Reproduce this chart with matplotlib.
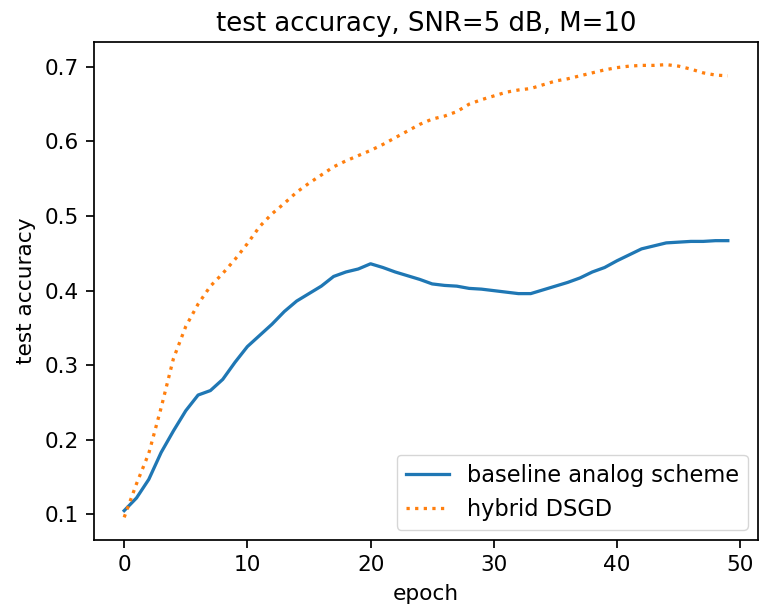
import matplotlib
matplotlib.use('Agg')
import matplotlib.pyplot as plt
import numpy as np

# Test accuracy per epoch.
epochs = np.arange(50)

baseline_analog = [
    0.105, 0.122, 0.147, 0.183, 0.212, 0.239, 0.260, 0.266, 0.281, 0.304,
    0.325, 0.340, 0.355, 0.372, 0.386, 0.396, 0.406, 0.419, 0.425, 0.429,
    0.436, 0.431, 0.425, 0.420, 0.415, 0.409, 0.407, 0.406, 0.403, 0.402,
    0.400, 0.398, 0.396, 0.396, 0.401, 0.406, 0.411, 0.417, 0.425, 0.431,
    0.440, 0.448, 0.456, 0.460, 0.464, 0.465, 0.466, 0.466, 0.467, 0.467,
]

hybrid_dsgd = [
    0.096, 0.141, 0.182, 0.243, 0.309, 0.352, 0.382, 0.406, 0.423, 0.442,
    0.463, 0.486, 0.503, 0.517, 0.532, 0.544, 0.555, 0.566, 0.574, 0.581,
    0.588, 0.596, 0.605, 0.614, 0.623, 0.630, 0.634, 0.640, 0.650, 0.656,
    0.661, 0.666, 0.669, 0.671, 0.676, 0.681, 0.684, 0.688, 0.692, 0.696,
    0.699, 0.701, 0.702, 0.702, 0.703, 0.701, 0.697, 0.692, 0.689, 0.688,
]

# The reference looks like a default matplotlib figure blown up ~1.56x.
scale = 1.56

# Initialise figure instance.
fig = plt.figure(figsize=(759 / 100, 604 / 100), dpi=100)
ax1 = fig.add_axes([94 / 759, 64 / 604, 664 / 759, 498 / 604])

# Plot data.
ax1.plot(epochs, baseline_analog, label='baseline analog scheme', linewidth=1.5 * scale)
ax1.plot(epochs, hybrid_dsgd, ':', label='hybrid DSGD', linewidth=1.5 * scale)

# Set labels.
ax1.set_xlabel('epoch', fontsize=10 * scale, labelpad=4 * scale)
ax1.set_ylabel('test accuracy', fontsize=10 * scale, labelpad=4 * scale)
ax1.set_title('test accuracy, SNR=5 dB, M=10', fontsize=12 * scale, pad=5 * scale)
ax1.tick_params(labelsize=10 * scale, length=3.5 * scale, width=0.8 * scale, pad=3.5 * scale)
for sp in ax1.spines.values():
    sp.set_linewidth(0.8 * scale)

ax1.legend(loc='lower right', fontsize=10.4 * scale, borderaxespad=0.45,
           handlelength=1.9)

plt.savefig('out.png', dpi=100)
plt.close()
